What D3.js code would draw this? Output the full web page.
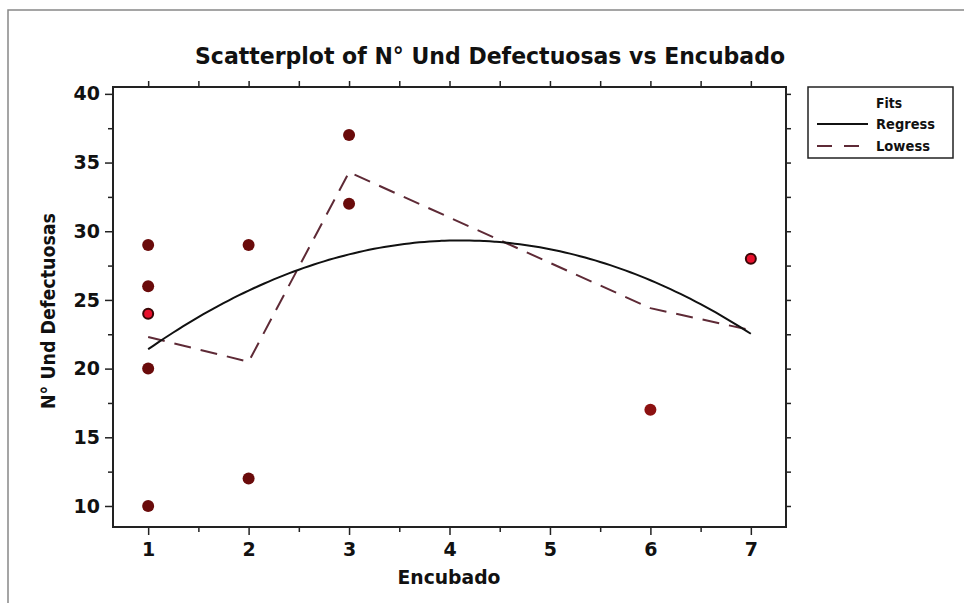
<!DOCTYPE html>
<html>
<head>
<meta charset="utf-8">
<script src="https://cdn.jsdelivr.net/npm/d3@7"></script>
<style>
  body { margin: 0; background: #fff; }
  text { font-family: "DejaVu Sans", Verdana, sans-serif; font-weight: bold; fill: #111; }
</style>
</head>
<body>
<svg id="chart"></svg>
<script>
// observed points (Encubado, N° Und Defectuosas)
var encubado   = [1, 1, 1, 1, 1, 2, 2, 3, 3, 6, 7];
var defectos   = [29, 26, 24, 20, 10, 29, 12, 37, 32, 17, 28];
var highlighted = [false, false, true, false, false, false, false, false, false, false, true];

// lowess fit
var lowessX = [1, 2, 3, 6, 7];
var lowessY = [22.3, 20.5, 34.3, 24.4, 22.8];

var xTicks = [1, 2, 3, 4, 5, 6, 7];
var yTicks = [10, 15, 20, 25, 30, 35, 40];

var width = 964, height = 603;
var plotLeft = 113, plotRight = 786, plotTop = 87, plotBottom = 527;

var svg = d3.select("#chart")
    .attr("width", width)
    .attr("height", height);

// outer frame
svg.append("rect")
    .attr("x", 8).attr("y", 10)
    .attr("width", 960).attr("height", 600)
    .attr("fill", "none")
    .attr("stroke", "#888")
    .attr("stroke-width", 1.5);

var x = d3.scaleLinear().domain([0.65, 7.35]).range([plotLeft, plotRight]);
var y = d3.scaleLinear().domain([8.47, 40.5]).range([plotBottom, plotTop]);

// ticks (major + minor) on all four sides, outward
var xMinor = d3.range(1.5, 7.5, 1);
var yMinor = d3.range(12.5, 40, 5);

svg.append("g")
    .attr("transform", "translate(0," + plotBottom + ")")
    .call(d3.axisBottom(x).tickValues(xTicks).tickSize(8).tickPadding(8).tickFormat(d3.format("d")))
    .call(function(g) { g.select(".domain").remove(); })
    .call(function(g) { g.selectAll("text").style("font-size", "19px").attr("fill", "#111"); });
svg.append("g")
    .attr("transform", "translate(0," + plotBottom + ")")
    .call(d3.axisBottom(x).tickValues(xMinor).tickSize(5).tickFormat(""))
    .call(function(g) { g.select(".domain").remove(); });

svg.append("g")
    .attr("transform", "translate(0," + plotTop + ")")
    .call(d3.axisTop(x).tickValues(xTicks.concat(xMinor)).tickSize(6).tickFormat(""))
    .call(function(g) { g.select(".domain").remove(); });

svg.append("g")
    .attr("transform", "translate(" + plotLeft + ",0)")
    .call(d3.axisLeft(y).tickValues(yTicks).tickSize(8).tickPadding(5))
    .call(function(g) { g.select(".domain").remove(); })
    .call(function(g) { g.selectAll("text").style("font-size", "19px").attr("fill", "#111"); });
svg.append("g")
    .attr("transform", "translate(" + plotLeft + ",0)")
    .call(d3.axisLeft(y).tickValues(yMinor).tickSize(5).tickFormat(""))
    .call(function(g) { g.select(".domain").remove(); });

svg.append("g")
    .attr("transform", "translate(" + plotRight + ",0)")
    .call(d3.axisRight(y).tickValues(yTicks.concat(yMinor)).tickSize(5).tickFormat(""))
    .call(function(g) { g.select(".domain").remove(); });

svg.selectAll(".tick line").attr("stroke", "#222").attr("stroke-width", 1.5);

// plot frame
svg.append("rect")
    .attr("x", plotLeft).attr("y", plotTop)
    .attr("width", plotRight - plotLeft).attr("height", plotBottom - plotTop)
    .attr("fill", "none")
    .attr("stroke", "#222")
    .attr("stroke-width", 2);

// quadratic least squares fit from the points
function quadFit(xs, ys) {
  var s = [0, 0, 0, 0, 0], t = [0, 0, 0];
  xs.forEach(function(xi, i) {
    for (var k = 0; k < 5; k++) s[k] += Math.pow(xi, k);
    for (var k2 = 0; k2 < 3; k2++) t[k2] += Math.pow(xi, k2) * ys[i];
  });
  var m = [[s[0], s[1], s[2], t[0]], [s[1], s[2], s[3], t[1]], [s[2], s[3], s[4], t[2]]];
  for (var i = 0; i < 3; i++) {
    for (var j = i + 1; j < 3; j++) {
      var f = m[j][i] / m[i][i];
      for (var k3 = i; k3 < 4; k3++) m[j][k3] -= f * m[i][k3];
    }
  }
  var c = [0, 0, 0];
  for (var r = 2; r >= 0; r--) {
    var v = m[r][3];
    for (var q = r + 1; q < 3; q++) v -= m[r][q] * c[q];
    c[r] = v / m[r][r];
  }
  return c;
}
var coef = quadFit(encubado, defectos);
var regress = d3.range(1, 7.001, 0.05).map(function(v) {
  return [v, coef[0] + coef[1] * v + coef[2] * v * v];
});

var line = d3.line()
    .x(function(d) { return x(d[0]); })
    .y(function(d) { return y(d[1]); });

svg.append("path")
    .datum(lowessX.map(function(v, i) { return [v, lowessY[i]]; }))
    .attr("d", line)
    .attr("fill", "none")
    .attr("stroke", "#5e2a36")
    .attr("stroke-width", 2)
    .attr("stroke-dasharray", "17,10");

svg.append("path")
    .datum(regress)
    .attr("d", line.curve(d3.curveBasis))
    .attr("fill", "none")
    .attr("stroke", "#111")
    .attr("stroke-width", 2);

// points
svg.append("g")
    .selectAll("circle")
    .data(encubado)
    .enter().append("circle")
      .attr("cx", function(d) { return x(d); })
      .attr("cy", function(d, i) { return y(defectos[i]); })
      .attr("r", function(d, i) { return highlighted[i] ? 5 : 6; })
      .attr("fill", function(d, i) { return highlighted[i] ? "#e8102c" : (d === 6 ? "#8c1111" : "#6a0b0b"); })
      .attr("stroke", function(d, i) { return highlighted[i] ? "#3a0606" : "none"; })
      .attr("stroke-width", 2);

// title and axis labels
svg.append("text")
    .attr("x", 490).attr("y", 64)
    .attr("text-anchor", "middle")
    .attr("textLength", 590).attr("lengthAdjust", "spacingAndGlyphs")
    .style("font-size", "23px")
    .text("Scatterplot of N° Und Defectuosas vs Encubado");

svg.append("text")
    .attr("x", 449).attr("y", 584)
    .attr("text-anchor", "middle")
    .attr("textLength", 103).attr("lengthAdjust", "spacingAndGlyphs")
    .style("font-size", "19px")
    .text("Encubado");

svg.append("text")
    .attr("transform", "translate(55,311) rotate(-90)")
    .attr("text-anchor", "middle")
    .attr("textLength", 196).attr("lengthAdjust", "spacingAndGlyphs")
    .style("font-size", "19px")
    .text("N° Und Defectuosas");

// legend
var legend = svg.append("g");
legend.append("rect")
    .attr("x", 808).attr("y", 87)
    .attr("width", 145).attr("height", 71)
    .attr("fill", "#fff")
    .attr("stroke", "#222")
    .attr("stroke-width", 1.5);
legend.append("text")
    .attr("x", 876).attr("y", 108)
    .attr("textLength", 26).attr("lengthAdjust", "spacingAndGlyphs")
    .style("font-size", "14px").text("Fits");
legend.append("line")
    .attr("x1", 817).attr("x2", 868).attr("y1", 124).attr("y2", 124)
    .attr("stroke", "#111").attr("stroke-width", 2);
legend.append("text")
    .attr("x", 876).attr("y", 129)
    .attr("textLength", 59).attr("lengthAdjust", "spacingAndGlyphs")
    .style("font-size", "14px").text("Regress");
legend.append("line")
    .attr("x1", 817).attr("x2", 868).attr("y1", 146).attr("y2", 146)
    .attr("stroke", "#5e2a36").attr("stroke-width", 2)
    .attr("stroke-dasharray", "15,12");
legend.append("text")
    .attr("x", 876).attr("y", 151)
    .attr("textLength", 54).attr("lengthAdjust", "spacingAndGlyphs")
    .style("font-size", "14px").text("Lowess");
</script>
</body>
</html>
